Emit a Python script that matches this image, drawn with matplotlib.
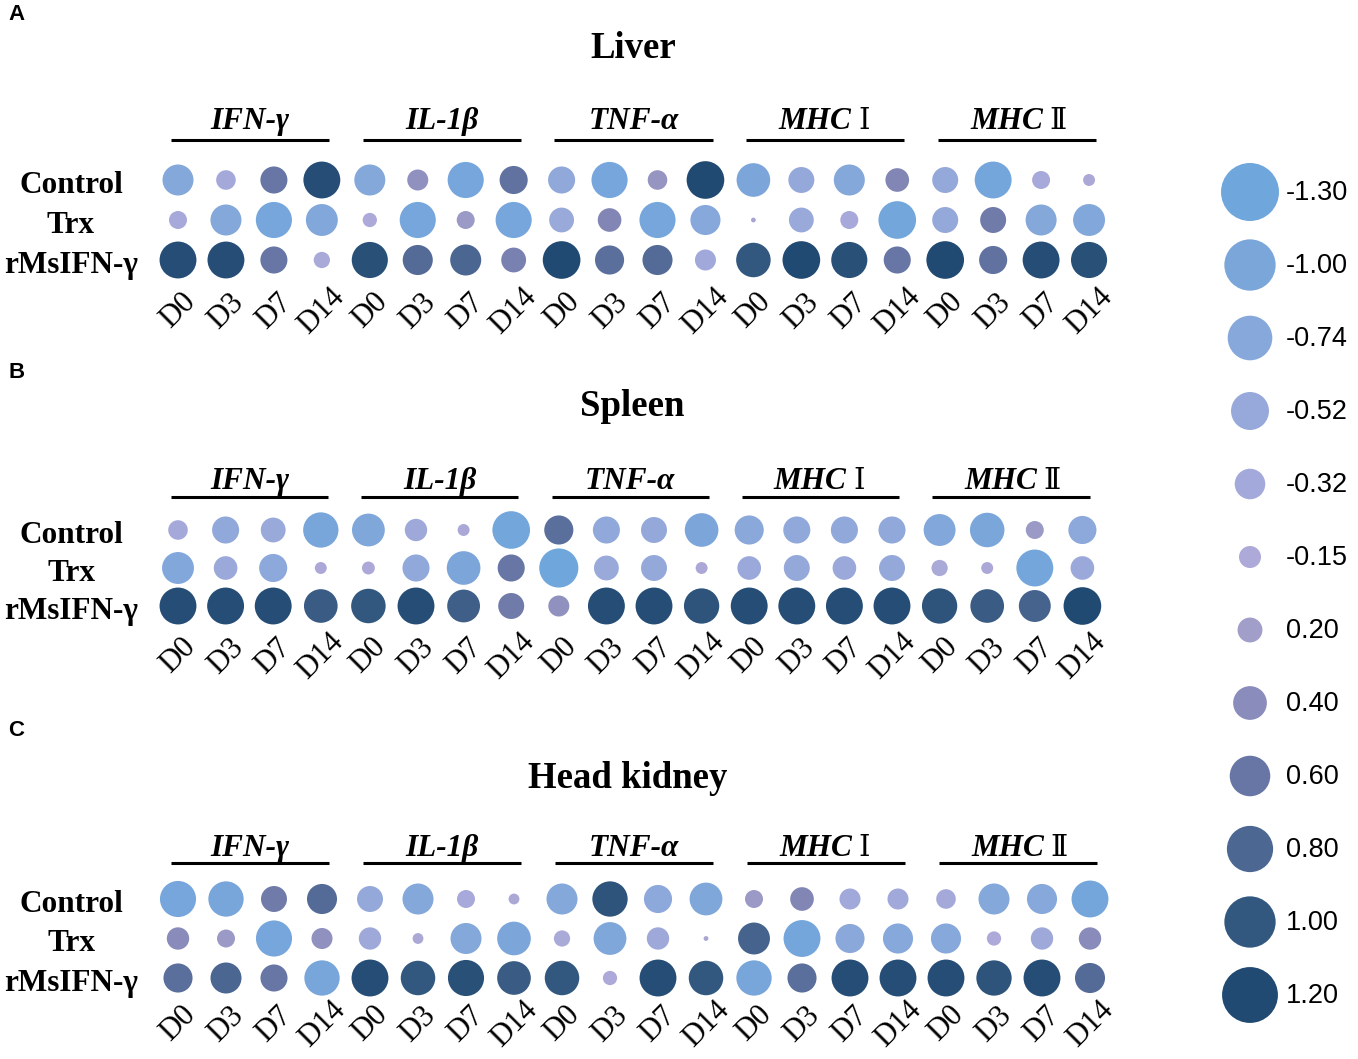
import numpy as np
import matplotlib.pyplot as plt
from matplotlib.colors import LinearSegmentedColormap

# figure size in pixels
W, H = 1358, 1059
fig = plt.figure(figsize=(W / 100, H / 100), dpi=100)

SERIF = ["Liberation Serif", "DejaVu Serif"]
SANS = ["Liberation Sans", "DejaVu Sans"]

genes = ["IFN-γ", "IL-1β", "TNF-α", "MHC", "MHC"]
gene_suffix = ["", "", "", "Ⅰ", "Ⅱ"]
days = ["D0", "D3", "D7", "D14"]
groups = ["Control", "Trx", "rMsIFN-γ"]
tissues = ["Liver", "Spleen", "Head kidney"]
panel_letters = ["A", "B", "C"]

# values per row: IFN-γ(D0..D14), IL-1β, TNF-α, MHC I, MHC II
liver_control = [-0.80, -0.30, 0.60, 1.15, -0.80, 0.35, -1.10, 0.65, -0.60, -1.10, 0.30, 1.20,
                 -0.95, -0.55, -0.80, 0.45, -0.55, -1.15, -0.25, -0.10]
liver_trx = [-0.25, -0.80, -1.10, -0.85, -0.15, -1.10, 0.25, -1.10, -0.50, 0.45, -1.10, -0.75,
             -0.01, -0.50, -0.25, -1.20, -0.55, 0.55, -0.80, -0.85]
liver_ifn = [1.15, 1.15, 0.60, -0.20, 1.10, 0.75, 0.80, 0.50, 1.20, 0.70, 0.75, -0.35,
             1.00, 1.20, 1.10, 0.60, 1.20, 0.65, 1.15, 1.10]

spleen_control = [-0.30, -0.60, -0.50, -1.05, -0.90, -0.40, -0.10, -1.20, 0.70, -0.60, -0.55, -0.95,
                  -0.70, -0.60, -0.60, -0.60, -0.85, -1.00, 0.25, -0.65]
spleen_trx = [-0.85, -0.45, -0.65, -0.10, -0.12, -0.60, -0.95, 0.60, -1.30, -0.50, -0.55, -0.10,
              -0.45, -0.55, -0.45, -0.55, -0.20, -0.10, -1.15, -0.45]
spleen_ifn = [1.15, 1.15, 1.15, 0.95, 1.00, 1.15, 0.90, 0.55, 0.35, 1.15, 1.15, 1.05,
              1.15, 1.15, 1.15, 1.15, 1.05, 0.95, 0.85, 1.20]

kidney_control = [-1.10, -1.05, 0.55, 0.75, -0.55, -0.80, -0.25, -0.08, -0.80, 1.05, -0.65, -0.90,
                  0.25, 0.45, -0.35, -0.35, -0.30, -0.80, -0.75, -1.15]
kidney_trx = [0.40, 0.25, -1.10, 0.35, -0.40, -0.08, -0.80, -0.95, -0.20, -0.90, -0.40, -0.01,
              0.85, -1.15, -0.70, -0.75, -0.75, -0.15, -0.40, 0.40]
kidney_ifn = [0.70, 0.80, 0.60, -1.05, 1.15, 1.00, 1.10, 0.95, 1.00, -0.15, 1.15, 1.00,
              -1.05, 0.70, 1.15, 1.15, 1.15, 1.05, 1.15, 0.75]

panel_data = [
    [liver_control, liver_trx, liver_ifn],
    [spleen_control, spleen_trx, spleen_ifn],
    [kidney_control, kidney_trx, kidney_ifn],
]

# legend levels and their colours
legend_values = [-1.30, -1.00, -0.74, -0.52, -0.32, -0.15, 0.20, 0.40, 0.60, 0.80, 1.00, 1.20]
legend_colors = ["#6fa6dc", "#7aa6da", "#87a8da", "#97a9da", "#a3a9da", "#adaad9",
                 "#a19ec9", "#8a8cbb", "#6876a5", "#4d6793", "#33587f", "#204a72"]

vmin, vmax = legend_values[0], legend_values[-1]
nodes = [(v - vmin) / (vmax - vmin) for v in legend_values]
cmap = LinearSegmentedColormap.from_list("bub", list(zip(nodes, legend_colors)))


def px_to_pts2(d):
    return (d * 72 / 100) ** 2


# panel geometry in pixels: first column x, column step, first row y, row step,
# title y, gene label y, gene line y, day label y
geom = [
    dict(x0=178, dx=47.95, y0=180, dy=40.0, ty=45, gy=118, ly=140, dly=311, lety=15, tx=633),
    dict(x0=178, dx=47.6, y0=530, dy=38.0, ty=403, gy=478, ly=497, dly=656, lety=373, tx=632),
    dict(x0=178, dx=48.0, y0=899, dy=39.5, ty=775, gy=845, ly=863, dly=1024, lety=730, tx=628),
]

for p, g in enumerate(geom):
    left = g["x0"] - 0.5 * g["dx"]
    top = g["y0"] - 0.5 * g["dy"]
    ax = fig.add_axes([left / W, 1 - (top + 3 * g["dy"]) / H, 20 * g["dx"] / W, 3 * g["dy"] / H])
    ax.set_xlim(-0.5, 19.5)
    ax.set_ylim(2.5, -0.5)
    ax.axis("off")

    ypx = lambda v: (v - g["y0"]) / g["dy"]
    xpx = lambda v: (v - g["x0"]) / g["dx"]

    vals = np.array(panel_data[p])
    xs, ys = np.meshgrid(np.arange(20), np.arange(3))
    diam = 1.5 + 33 * np.sqrt(np.abs(vals))
    ax.scatter(xs.ravel(), ys.ravel(), s=px_to_pts2(diam.ravel()), c=vals.ravel(),
               cmap=cmap, vmin=vmin, vmax=vmax, linewidths=0, clip_on=False)

    # row labels
    for r, name in enumerate(groups):
        ax.text(xpx(71), r + 0.05, name, ha="center", va="center_baseline", fontsize=22.5,
                fontweight="bold", family=SERIF, clip_on=False)

    # gene headers with lines
    for k in range(5):
        cx = 4 * k + 1.5
        ax.plot([4 * k - 0.15, 4 * k + 3.15], [ypx(g["ly"])] * 2, color="black", lw=2.2,
                clip_on=False, solid_capstyle="butt")
        if gene_suffix[k]:
            ax.text(cx + 0.55, ypx(g["gy"]), genes[k], ha="right", va="center_baseline",
                    fontsize=22.5, fontweight="bold", fontstyle="italic", family=SERIF,
                    clip_on=False)
            ax.text(cx + 0.68, ypx(g["gy"]), gene_suffix[k], ha="left", va="center_baseline",
                    fontsize=21, family=["DejaVu Serif", "Noto Sans CJK SC"], clip_on=False)
        else:
            ax.text(cx, ypx(g["gy"]), genes[k], ha="center", va="center_baseline",
                    fontsize=22.5, fontweight="bold", fontstyle="italic", family=SERIF,
                    clip_on=False)
        for j, d in enumerate(days):
            ax.text(4 * k + j, ypx(g["dly"]), d, ha="center", va="center", rotation=45,
                    fontsize=22, family=SERIF, clip_on=False)

    fig.text(g["tx"] / W, 1 - g["ty"] / H, tissues[p], ha="center", va="center_baseline",
             fontsize=26.5, fontweight="bold", family=SERIF)
    fig.text(8 / W, 1 - g["lety"] / H, panel_letters[p], ha="left", va="center",
             fontsize=16, fontweight="bold", family=SANS)

# size / colour legend
lax = fig.add_axes([1200 / W, 1 - (155.5 + 12 * 73) / H, 158 / W, 12 * 73 / H])
lax.set_xlim(0, 158)
lax.set_ylim(11.5, -0.5)
lax.axis("off")
lv = np.array(legend_values)
ld = 3.5 + 47.8 * np.sqrt(np.abs(lv))
lax.scatter(np.full(len(lv), 50), np.arange(len(lv)), s=px_to_pts2(ld), c=legend_colors,
            linewidths=0, clip_on=False)
for i, v in enumerate(legend_values):
    lax.text(86, i + 0.02, f"{v:.2f}", ha="left", va="center", fontsize=19.5, family=SANS)

fig.savefig("out.png", dpi=100, facecolor="white")
